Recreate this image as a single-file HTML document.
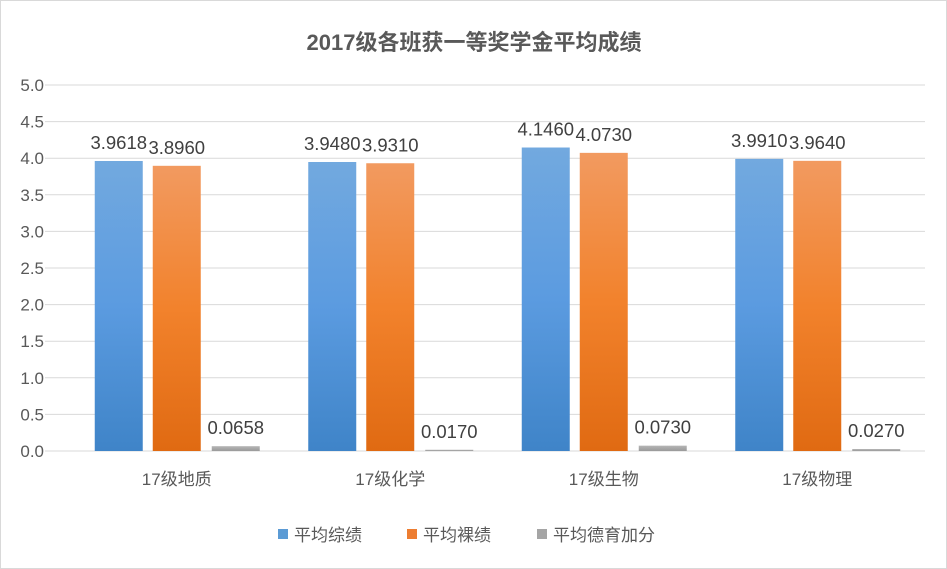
<!DOCTYPE html>
<html><head><meta charset="utf-8"><style>
body{margin:0;background:#fff;}
svg{display:block;font-family:"Liberation Sans","Noto Sans CJK SC",sans-serif;}
</style></head><body>
<svg id="chart" width="947" height="569">
<defs>
<linearGradient id="gb" x1="0" y1="0" x2="0" y2="1"><stop offset="0" stop-color="#72a9df"/><stop offset="0.5" stop-color="#5b9be0"/><stop offset="1" stop-color="#3f84c8"/></linearGradient>
<linearGradient id="go" x1="0" y1="0" x2="0" y2="1"><stop offset="0" stop-color="#f29a60"/><stop offset="0.5" stop-color="#f2822c"/><stop offset="1" stop-color="#e06a12"/></linearGradient>
<linearGradient id="gg" x1="0" y1="0" x2="0" y2="1"><stop offset="0" stop-color="#b5b5b5"/><stop offset="1" stop-color="#9a9a9a"/></linearGradient>
</defs>
<rect x="0.5" y="0.5" width="946" height="568" fill="#fff" stroke="#d9d9d9"/>
<text x="474" y="50" text-anchor="middle" font-size="22" font-weight="bold" fill="#595959">2017级各班获一等奖学金平均成绩</text>
<g id="grid"></g><g id="bars"></g><g id="labels"></g>
<g>
<rect x="278" y="529" width="10" height="10" fill="#5b9bd5"/>
<text x="294" y="541" font-size="17" fill="#595959">平均综绩</text>
<rect x="407" y="529" width="10" height="10" fill="#ed7d31"/>
<text x="423" y="541" font-size="17" fill="#595959">平均裸绩</text>
<rect x="537" y="529" width="10" height="10" fill="#a5a5a5"/>
<text x="553" y="541" font-size="17" fill="#595959">平均德育加分</text>
</g>
</svg>
<script>
const categories=["17级地质","17级化学","17级生物","17级物理"];
const composite=[3.9618,3.9480,4.1460,3.9910];
const raw=[3.8960,3.9310,4.0730,3.9640];
const moral=[0.0658,0.0170,0.0730,0.0270];
const yTicks=["0.0","0.5","1.0","1.5","2.0","2.5","3.0","3.5","4.0","4.5","5.0"];
const NS="http://www.w3.org/2000/svg";
const y0=451,y1=85,yMax=5,left=70,right=924;
const y=v=>y0-(v/yMax)*(y0-y1);
const bw=(right-left)/categories.length;
const xc=i=>left+bw*(i+0.5);
function mk(t,a,p){const e=document.createElementNS(NS,t);for(const k in a)e.setAttribute(k,a[k]);p.appendChild(e);return e;}
const grid=document.getElementById('grid'),bars=document.getElementById('bars'),labels=document.getElementById('labels');
yTicks.forEach(t=>{const v=parseFloat(t);
 const l=mk('line',{x1:45,x2:925,y1:y(v),y2:y(v),stroke:'#d9d9d9','stroke-width':1},grid);
 
 
 const tx=mk('text',{x:44,y:y(v)+6,'text-anchor':'end','font-size':17,fill:'#595959'},grid);tx.textContent=t;
 
 
});
const series=[[composite,'url(#gb)',-58,'composite'],[raw,'url(#go)',0,'raw'],[moral,'url(#gg)',59,'moral']];
categories.forEach((c,i)=>{
 series.forEach(([arr,fill,off,nm])=>{
  const v=arr[i],cx=xc(i)+off;
  const r=mk('rect',{x:cx-24,y:y(v),width:48,height:y0-y(v),fill:fill},bars);
  
  
  const t=mk('text',{x:cx,y:y(v)-12,'text-anchor':'middle','font-size':18.5,fill:'#404040'},labels);
  t.textContent=v.toFixed(4);
  
  
 });
 const ct=mk('text',{x:xc(i),y:485,'text-anchor':'middle','font-size':17,fill:'#595959'},labels);
 ct.textContent=c;
 
 
});
</script>
</body></html>
